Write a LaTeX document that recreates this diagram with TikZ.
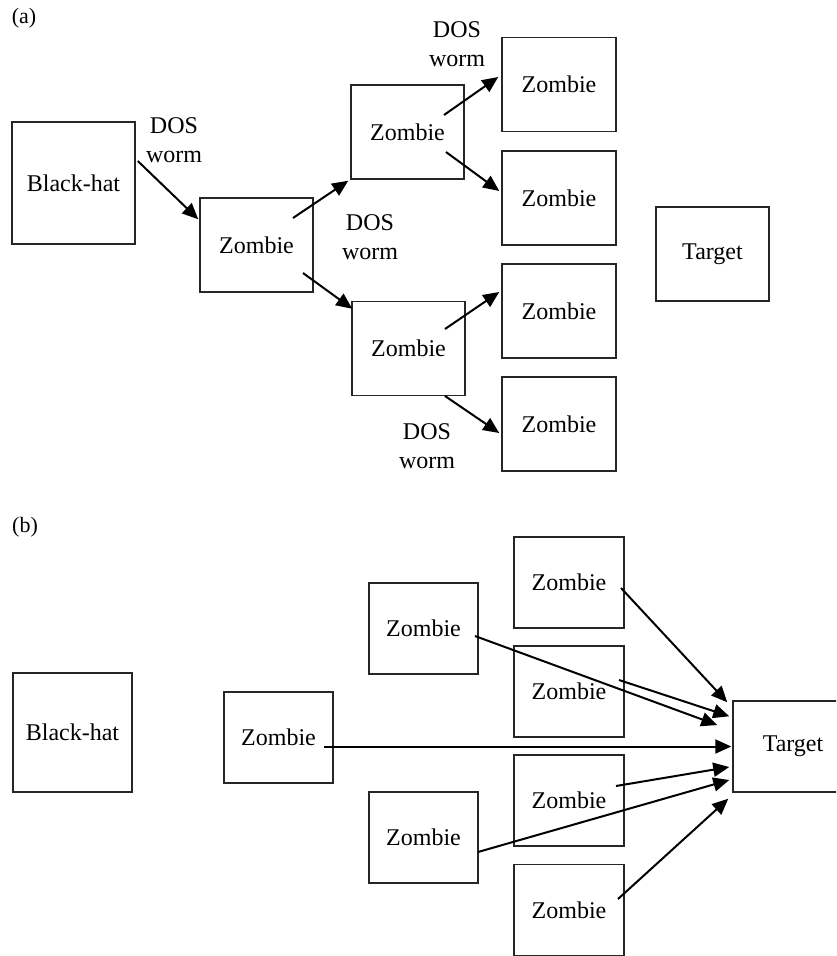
\documentclass[tikz,border=0pt]{standalone}
\usepackage{fontspec}
\setmainfont{Liberation Serif}
\usetikzlibrary{arrows.meta}
\begin{document}
\begin{tikzpicture}[x=1pt,y=-1pt,
  box/.style={draw=black!85,line width=1.5pt,inner sep=0pt,
    font=\fontsize{24}{29}\selectfont},
  boxa/.style={box,minimum width=113pt,minimum height=94pt},
  boxb/.style={box,minimum width=110pt,minimum height=91pt},
  lbl/.style={align=center,inner sep=0pt,font=\fontsize{24}{29}\selectfont},
  tag/.style={inner sep=0pt,font=\fontsize{22}{26}\selectfont},
  flow/.style={line width=2pt,-{Triangle[length=16pt,width=14pt]}}]
\useasboundingbox (0,0) rectangle (836,956);
\clip (0,0) rectangle (836,956);

% ---------- (a) the worm spreads ----------
\node[tag] (taga) at (24,18) {(a)};
\node[box,minimum width=123pt,minimum height=122pt] (bha) at (73.5,183) {Black-hat};
\node[boxa] (z1) at (256.5,245) {Zombie};
\node[boxa] (zu) at (407.5,132) {Zombie};
\node[boxa] (zl) at (408.5,348.5) {Zombie};
\node[boxa,minimum width=114pt] (r1) at (559,84.5) {Zombie};
\node[boxa,minimum width=114pt] (r2) at (559,198) {Zombie};
\node[boxa,minimum width=114pt] (r3) at (559,311) {Zombie};
\node[boxa,minimum width=114pt] (r4) at (559,424) {Zombie};
\node[boxa] (tga) at (712.5,254) {Target};

\node[lbl] (w1) at (174,140) {DOS\\worm};
\node[lbl] (w2) at (370,237) {DOS\\worm};
\node[lbl] (w3) at (457,44) {DOS\\worm};
\node[lbl] (w4) at (427,446) {DOS\\worm};

\draw[flow] ([shift={(2,-22)}]bha.east) -- ([shift={(-1,22)}]z1.north west);
\draw[flow] ([shift={(36.5,-27)}]z1.center) -- ([shift={(-2,1)}]zu.south west);
\draw[flow] ([shift={(46.5,28)}]z1.center) -- ([shift={(1,8)}]zl.north west);
\draw[flow] ([shift={(36.5,-17)}]zu.center) -- ([shift={(-3,-7.5)}]r1.west);
\draw[flow] ([shift={(38.5,20)}]zu.center) -- ([shift={(-2,-7)}]r2.west);
\draw[flow] ([shift={(36.5,-19.5)}]zl.center) -- ([shift={(-2,-19)}]r3.west);
\draw[flow] ([shift={(36.5,47.5)}]zl.center) -- ([shift={(-2,9)}]r4.west);

% ---------- (b) the zombies attack ----------
\node[tag] (tagb) at (25,527) {(b)};
\node[box,minimum width=119pt,minimum height=119pt] (bhb) at (72.5,732.5) {Black-hat};
\node[boxb,minimum width=109pt] (zb) at (278.5,737.5) {Zombie};
\node[boxb,minimum width=109pt] (zbu) at (423.5,628.5) {Zombie};
\node[boxb,minimum width=109pt] (zbl) at (423.5,837.5) {Zombie};
\node[boxb] (s1) at (569,582.5) {Zombie};
\node[boxb] (s2) at (569,691.5) {Zombie};
\node[boxb] (s3) at (569,800.5) {Zombie};
\node[boxb] (s4) at (569,910) {Zombie};
\node[boxb,minimum width=120pt] (tgb) at (793,746.5) {Target};

\draw[flow] ([shift={(52,5.5)}]s1.center) -- ([shift={(-5,2)}]tgb.north west);
\draw[flow] ([shift={(50,-11.5)}]s2.center) -- ([shift={(-3,16)}]tgb.north west);
\draw[flow] ([shift={(51.5,7.5)}]zbu.center) -- ([shift={(-15,-21.5)}]tgb.west);
\draw[flow] ([shift={(45.5,9)}]zb.center) -- ([shift={(-1,0)}]tgb.west);
\draw[flow] ([shift={(47,-14.5)}]s3.center) -- ([shift={(-3,20.5)}]tgb.west);
\draw[flow] ([shift={(54.5,14.5)}]zbl.center) -- ([shift={(-3,33.5)}]tgb.west);
\draw[flow] ([shift={(49,-11)}]s4.center) -- ([shift={(-4,6)}]tgb.south west);
\end{tikzpicture}
\end{document}
